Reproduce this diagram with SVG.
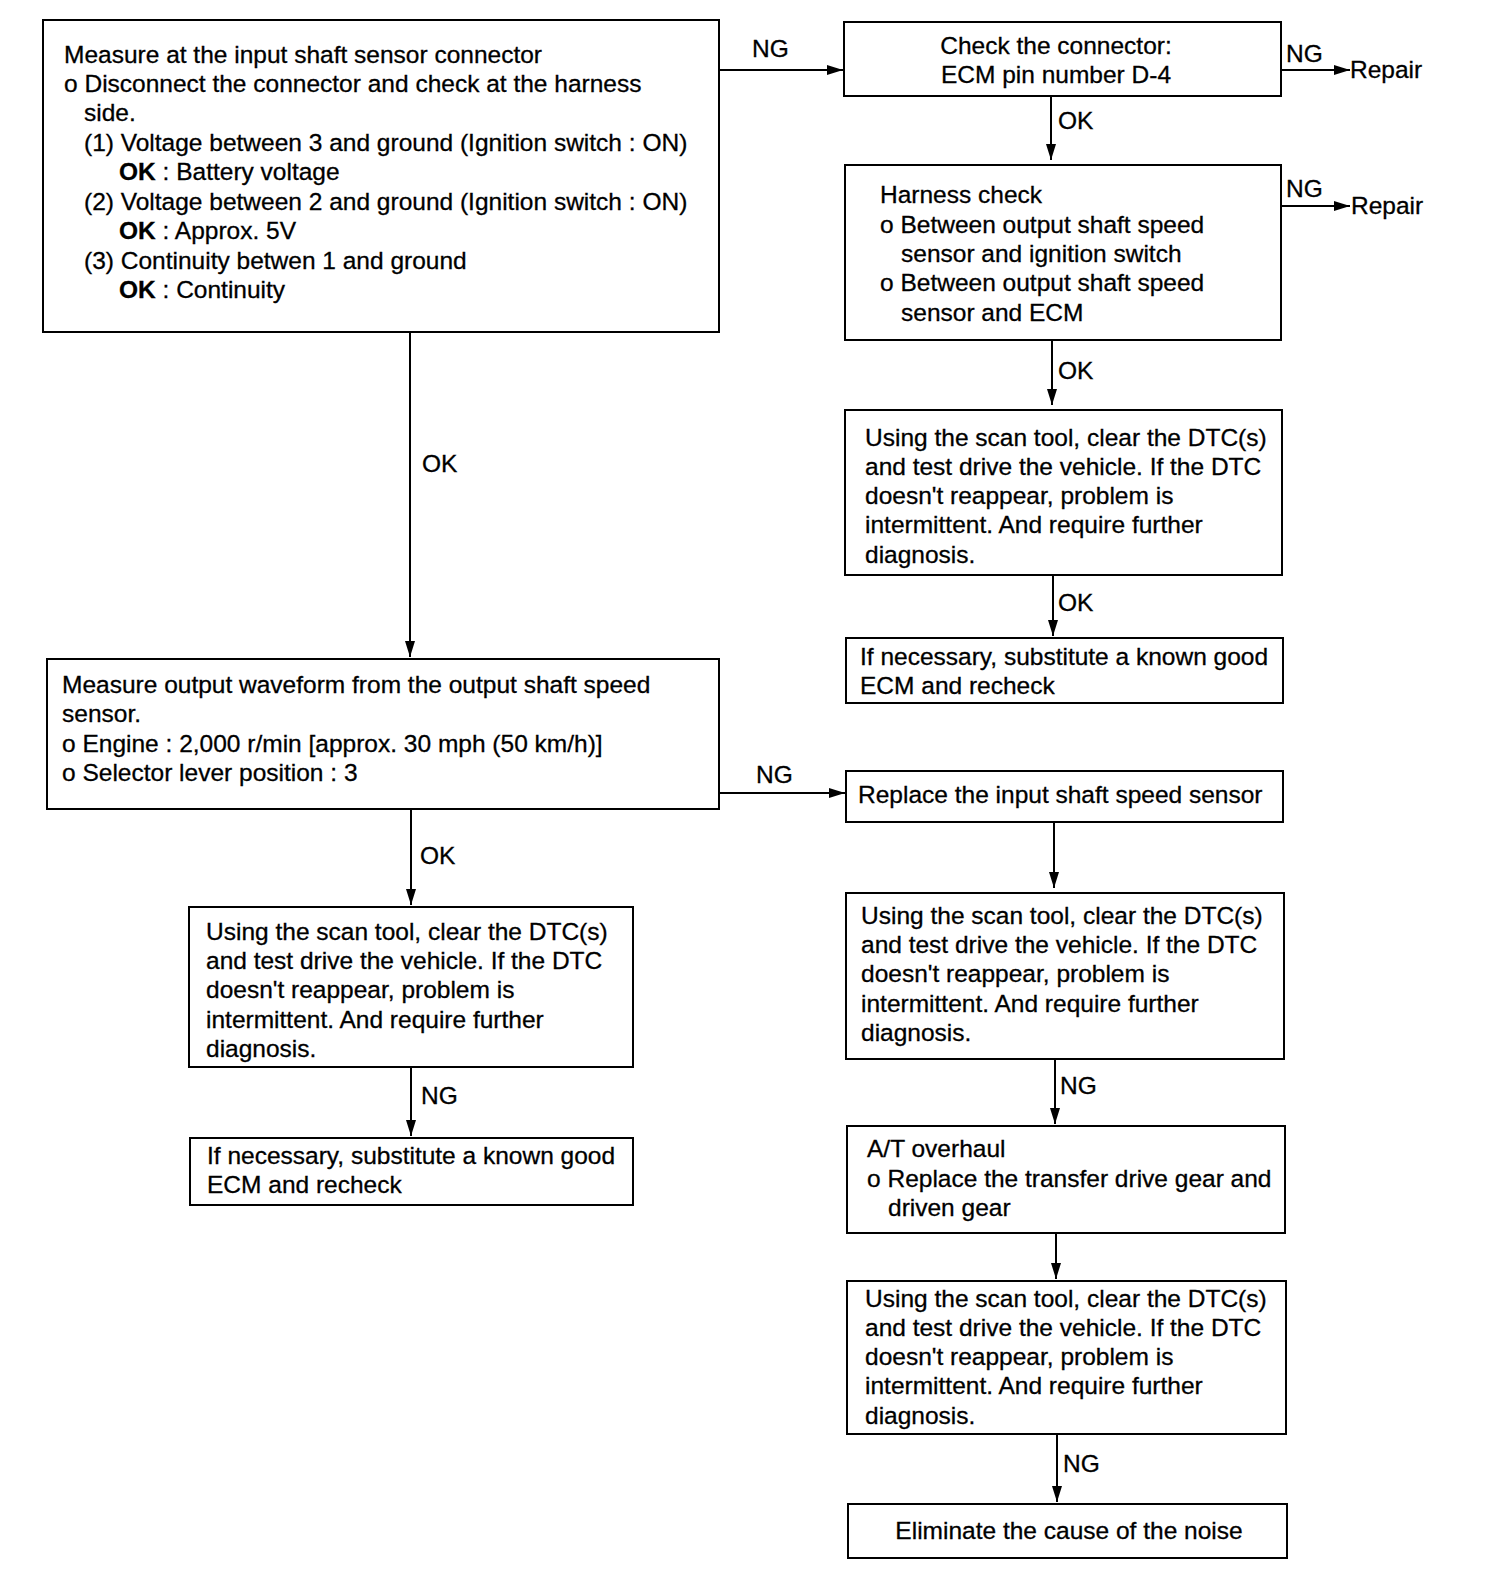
<svg xmlns="http://www.w3.org/2000/svg" width="1504" height="1572" viewBox="0 0 1504 1572">
<defs>
<marker id="ah" viewBox="0 0 16 10" refX="16" refY="5" markerWidth="16" markerHeight="10" markerUnits="userSpaceOnUse" orient="auto">
<path d="M0,0 L16,5 L0,10 Z" fill="#000"/>
</marker>
</defs>
<style>
text{font-family:"Liberation Sans",Arial,sans-serif;font-size:24.5px;fill:#000;stroke:#000;stroke-width:0.3}
.b{font-weight:bold}
.box{fill:#fff;stroke:#000;stroke-width:2}
.c{stroke:#000;stroke-width:2;fill:none;marker-end:url(#ah)}
.m{text-anchor:middle}
</style>
<rect width="1504" height="1572" fill="#fff"/>
<g id="connectors">
<path class="c" d="M719,70 H843"/>
<path class="c" d="M1281,70 H1350"/>
<path class="c" d="M1051,96 V160"/>
<path class="c" d="M1281,206 H1350"/>
<path class="c" d="M1052,340 V405"/>
<path class="c" d="M1053,575 V636"/>
<path class="c" d="M410,332 V657"/>
<path class="c" d="M719,793 H845"/>
<path class="c" d="M1054,822 V888"/>
<path class="c" d="M1055,1059 V1124"/>
<path class="c" d="M1056,1233 V1279"/>
<path class="c" d="M1057,1434 V1502"/>
<path class="c" d="M411,809 V905"/>
<path class="c" d="M411,1067 V1136"/>
<text x="752" y="57">NG</text>
<text x="1286" y="62">NG</text>
<text x="1350" y="78">Repair</text>
<text x="1286" y="197">NG</text>
<text x="1351" y="214">Repair</text>
<text x="1058" y="129">OK</text>
<text x="1058" y="379">OK</text>
<text x="1058" y="611">OK</text>
<text x="422" y="472">OK</text>
<text x="756" y="783">NG</text>
<text x="1060" y="1094">NG</text>
<text x="1063" y="1472">NG</text>
<text x="420" y="864">OK</text>
<text x="421" y="1104">NG</text>
</g>
<g id="n1">
<rect class="box" x="43" y="20" width="676" height="312"/>
<text x="64" y="63">Measure at the input shaft sensor connector</text>
<text x="64" y="92">o Disconnect the connector and check at the harness</text>
<text x="84" y="121">side.</text>
<text x="84" y="151">(1) Voltage between 3 and ground (Ignition switch : ON)</text>
<text x="119" y="180"><tspan class="b">OK</tspan> : Battery voltage</text>
<text x="84" y="210">(2) Voltage between 2 and ground (Ignition switch : ON)</text>
<text x="119" y="239"><tspan class="b">OK</tspan> : Approx. 5V</text>
<text x="84" y="269">(3) Continuity betwen 1 and ground</text>
<text x="119" y="298"><tspan class="b">OK</tspan> : Continuity</text>
</g>
<g id="n2">
<rect class="box" x="844" y="22" width="437" height="74"/>
<text class="m" x="1056" y="54">Check the connector:</text>
<text class="m" x="1056" y="83">ECM pin number D-4</text>
</g>
<g id="n3">
<rect class="box" x="845" y="165" width="436" height="175"/>
<text x="880" y="203">Harness check</text>
<text x="880" y="233">o Between output shaft speed</text>
<text x="901" y="262">sensor and ignition switch</text>
<text x="880" y="291">o Between output shaft speed</text>
<text x="901" y="321">sensor and ECM</text>
</g>
<g id="n4">
<rect class="box" x="845" y="410" width="437" height="165"/>
<text x="865" y="446">Using the scan tool, clear the DTC(s)</text>
<text x="865" y="475">and test drive the vehicle. If the DTC</text>
<text x="865" y="504">doesn't reappear, problem is</text>
<text x="865" y="533">intermittent. And require further</text>
<text x="865" y="563">diagnosis.</text>
</g>
<g id="n5">
<rect class="box" x="846" y="638" width="437" height="65"/>
<text x="860" y="665">If necessary, substitute a known good</text>
<text x="860" y="694">ECM and recheck</text>
</g>
<g id="n6">
<rect class="box" x="47" y="659" width="672" height="150"/>
<text x="62" y="693">Measure output waveform from the output shaft speed</text>
<text x="62" y="722">sensor.</text>
<text x="62" y="752">o Engine : 2,000 r/min [approx. 30 mph (50 km/h)]</text>
<text x="62" y="781">o Selector lever position : 3</text>
</g>
<g id="n7">
<rect class="box" x="846" y="771" width="437" height="51"/>
<text x="858" y="803">Replace the input shaft speed sensor</text>
</g>
<g id="n8">
<rect class="box" x="846" y="893" width="438" height="166"/>
<text x="861" y="924">Using the scan tool, clear the DTC(s)</text>
<text x="861" y="953">and test drive the vehicle. If the DTC</text>
<text x="861" y="982">doesn't reappear, problem is</text>
<text x="861" y="1012">intermittent. And require further</text>
<text x="861" y="1041">diagnosis.</text>
</g>
<g id="n9">
<rect class="box" x="847" y="1126" width="438" height="107"/>
<text x="867" y="1157">A/T overhaul</text>
<text x="867" y="1187">o Replace the transfer drive gear and</text>
<text x="888" y="1216">driven gear</text>
</g>
<g id="n10">
<rect class="box" x="847" y="1281" width="439" height="153"/>
<text x="865" y="1307">Using the scan tool, clear the DTC(s)</text>
<text x="865" y="1336">and test drive the vehicle. If the DTC</text>
<text x="865" y="1365">doesn't reappear, problem is</text>
<text x="865" y="1394">intermittent. And require further</text>
<text x="865" y="1424">diagnosis.</text>
</g>
<g id="n11">
<rect class="box" x="848" y="1504" width="439" height="54"/>
<text class="m" x="1069" y="1539">Eliminate the cause of the noise</text>
</g>
<g id="n12">
<rect class="box" x="189" y="907" width="444" height="160"/>
<text x="206" y="940">Using the scan tool, clear the DTC(s)</text>
<text x="206" y="969">and test drive the vehicle. If the DTC</text>
<text x="206" y="998">doesn't reappear, problem is</text>
<text x="206" y="1028">intermittent. And require further</text>
<text x="206" y="1057">diagnosis.</text>
</g>
<g id="n13">
<rect class="box" x="190" y="1138" width="443" height="67"/>
<text x="207" y="1164">If necessary, substitute a known good</text>
<text x="207" y="1193">ECM and recheck</text>
</g>
</svg>
